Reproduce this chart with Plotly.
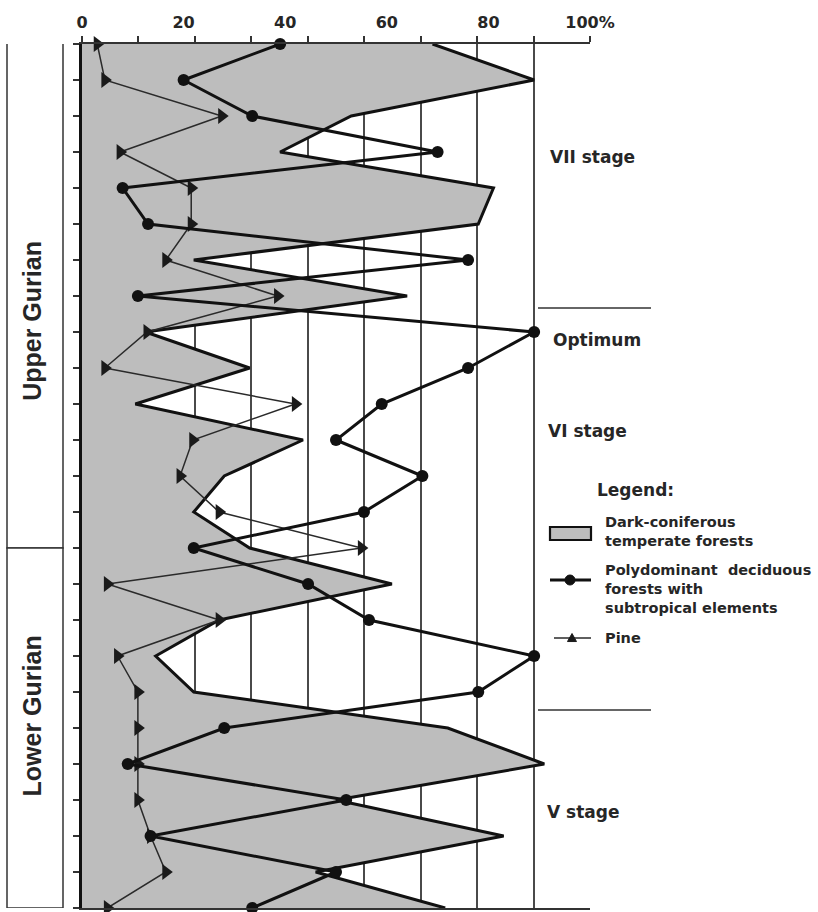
import plotly.graph_objects as go

# sample rows (top = 0, bottom = 24)
rows = list(range(25))

# Dark-coniferous temperate forests (%)
coniferous = [69, 89, 53, 39, 81, 78, 22, 64, 12.5, 33, 10.5, 43.5, 28, 22, 33,
              61, 27, 14.5, 22, 72, 91, 50, 83, 46, 71.5]
# Polydominant deciduous forests with subtropical elements (%)
deciduous = [39, 20, 33.5, 70, 8, 13, 76, 11, 89, 76, 59, 50, 67, 55.5, 22,
             44.5, 56.5, 89, 78, 28, 9, 52, 13.5, 50, 33.5]
# Pine (%)
pine = [3, 4.5, 27.5, 7.5, 21.5, 21.5, 16.5, 38.5, 12.8, 4.5, 42, 21.8, 19.3, 27,
        55, 5, 27, 7, 11, 11, 11, 11, 13.5, 16.5, 5]

label_ticks = [0, 20, 40, 60, 80, 100]
label_text = ["0", "20", "40", "60", "80", "100%"]
grid_ticks = [100 / 9 * k for k in range(10)]

stage_labels = ["VII stage", "Optimum", "VI stage", "V stage"]
stage_label_rows = [3.14, 8.22, 10.75, 21.33]
stage_label_x = [0.917, 0.923, 0.913, 0.911]
stage_breaks = [7.33, 18.5]

horizon_labels = ["Upper Gurian", "Lower Gurian"]
horizon_bounds = [(-0.2, 14.0), (14.0, 24.0)]
horizon_text_rows = [7.69, 18.68]

legend_names = ["Dark-coniferous<br>temperate forests",
                "Polydominant  deciduous<br>forests with<br>subtropical elements",
                "Pine"]

FONT = "DejaVu Sans, Verdana, sans-serif"
RFONT = "Arial, Liberation Sans, sans-serif"
TXT = "#262626"
FILL = "#bdbdbd"

# plot area in pixels: x 82..590, y 44..908
def px_x(p):
    return (p - 82) / 508.0


def px_y(p):
    return (908 - p) / 864.0


fig = go.Figure()

fig.add_trace(go.Scatter(
    x=coniferous, y=rows, mode="lines", fill="tozerox",
    fillcolor=FILL, line=dict(color="#111111", width=3),
    showlegend=False, hoverinfo="skip"))

fig.add_trace(go.Scatter(
    x=pine, y=rows, mode="lines+markers",
    line=dict(color="#2a2a2a", width=1.5),
    marker=dict(symbol="triangle-right", size=14, color="#1a1a1a"),
    showlegend=False, cliponaxis=False, hoverinfo="skip"))

fig.add_trace(go.Scatter(
    x=deciduous, y=rows, mode="lines+markers",
    line=dict(color="#111111", width=3),
    marker=dict(symbol="circle", size=12, color="#111111"),
    showlegend=False, cliponaxis=False, hoverinfo="skip"))

# axis used only for percentage labels
fig.add_trace(go.Scatter(x=[None], y=[None], xaxis="x2", showlegend=False,
                         hoverinfo="skip"))

fig.update_layout(
    width=818, height=912,
    margin=dict(l=82, r=228, t=44, b=4, autoexpand=False),
    paper_bgcolor="white", plot_bgcolor="white",
    font=dict(family=FONT, color=TXT),
    showlegend=False,
    xaxis=dict(range=[0, 100], side="top", tickmode="array", tickvals=grid_ticks,
               showticklabels=False, ticks="outside", ticklen=6, tickwidth=1.5,
               tickcolor="#333", showgrid=True, gridcolor="#4a4a4a", gridwidth=1.6,
               showline=True, linecolor="#333", linewidth=1.5, mirror=True,
               zeroline=False),
    xaxis2=dict(range=[0, 100], side="top", overlaying="x", anchor="y",
                tickmode="array", tickvals=label_ticks, ticktext=label_text,
                ticks="outside", ticklen=9, tickcolor="rgba(0,0,0,0)",
                showgrid=False, showline=False, zeroline=False,
                tickfont=dict(size=16, family=FONT, color=TXT, weight="bold")),
    yaxis=dict(range=[24, 0], tickmode="array", tickvals=rows,
               showticklabels=False, ticks="outside", ticklen=6, tickwidth=1.5,
               tickcolor="#333", showgrid=False, showline=True,
               linecolor="#111", linewidth=3, zeroline=False),
)

# ---- legend (drawn manually to keep the plot area fixed) ----
lfont = dict(size=14.5, family=FONT, color=TXT, weight="bold")
fig.add_annotation(text="Legend:", x=px_x(595), y=px_y(490), xref="paper",
                   yref="paper", showarrow=False, xanchor="left",
                   yanchor="middle",
                   font=dict(size=17, family=FONT, color=TXT, weight="bold"))
legend_text_centers = [531, 588.7, 638]
for name, cy in zip(legend_names, legend_text_centers):
    fig.add_annotation(text=name, x=px_x(603), y=px_y(cy), xref="paper",
                       yref="paper", showarrow=False, xanchor="left",
                       yanchor="middle", align="left", font=lfont)

# white backing behind legend keys (hides the 100 % grid line there)
for (a, b) in [(515, 546), (566, 592), (630, 646)]:
    fig.add_shape(type="rect", xref="paper", yref="paper", x0=px_x(546),
                  x1=px_x(600), y0=px_y(b), y1=px_y(a), fillcolor="white",
                  line=dict(width=0), layer="above")
# coniferous swatch
fig.add_shape(type="rect", xref="paper", yref="paper", x0=px_x(550),
              x1=px_x(591), y0=px_y(540), y1=px_y(527), fillcolor=FILL,
              line=dict(color="#111", width=2.2), layer="above")
# deciduous key
fig.add_shape(type="line", xref="paper", yref="paper", x0=px_x(550),
              x1=px_x(591), y0=px_y(580), y1=px_y(580),
              line=dict(color="#111", width=3), layer="above")
fig.add_shape(type="circle", xref="paper", yref="paper", x0=px_x(565),
              x1=px_x(575), y0=px_y(585), y1=px_y(575), fillcolor="#111",
              line=dict(color="#111", width=1), layer="above")
# pine key
fig.add_shape(type="line", xref="paper", yref="paper", x0=px_x(554),
              x1=px_x(591), y0=px_y(638), y1=px_y(638),
              line=dict(color="#2a2a2a", width=1.3), layer="above")
fig.add_shape(type="path", xref="paper", yref="paper",
              path="M {:.4f} {:.4f} L {:.4f} {:.4f} L {:.4f} {:.4f} Z".format(
                  px_x(567.5), px_y(641.5), px_x(576.5), px_y(641.5),
                  px_x(572), px_y(633.5)),
              fillcolor="#1a1a1a", line=dict(color="#1a1a1a", width=1),
              layer="above")

# ---- stage labels ----
for txt, yy, xx in zip(stage_labels, stage_label_rows, stage_label_x):
    fig.add_annotation(text=txt, x=xx, y=yy, xref="paper", yref="y",
                       showarrow=False, xanchor="left", yanchor="middle",
                       font=dict(size=17, family=FONT, color=TXT, weight="bold"))

# stage separators
for yy in stage_breaks:
    fig.add_shape(type="line", xref="paper", yref="y", x0=px_x(538),
                  x1=px_x(651), y0=yy, y1=yy, line=dict(color="#333", width=1.5))

# stratigraphic boxes on the left
for (y0, y1), label, ty in zip(horizon_bounds, horizon_labels, horizon_text_rows):
    fig.add_shape(type="rect", xref="paper", yref="y", x0=px_x(7), x1=px_x(63),
                  y0=y0, y1=y1, line=dict(color="#333", width=1.5),
                  fillcolor="white")
    fig.add_annotation(text=label, xref="paper", yref="y", x=px_x(32), y=ty,
                       xanchor="center", yanchor="middle", textangle=-90,
                       showarrow=False,
                       font=dict(size=25, family=RFONT, color=TXT, weight="bold"))

fig.write_html("out.html")
